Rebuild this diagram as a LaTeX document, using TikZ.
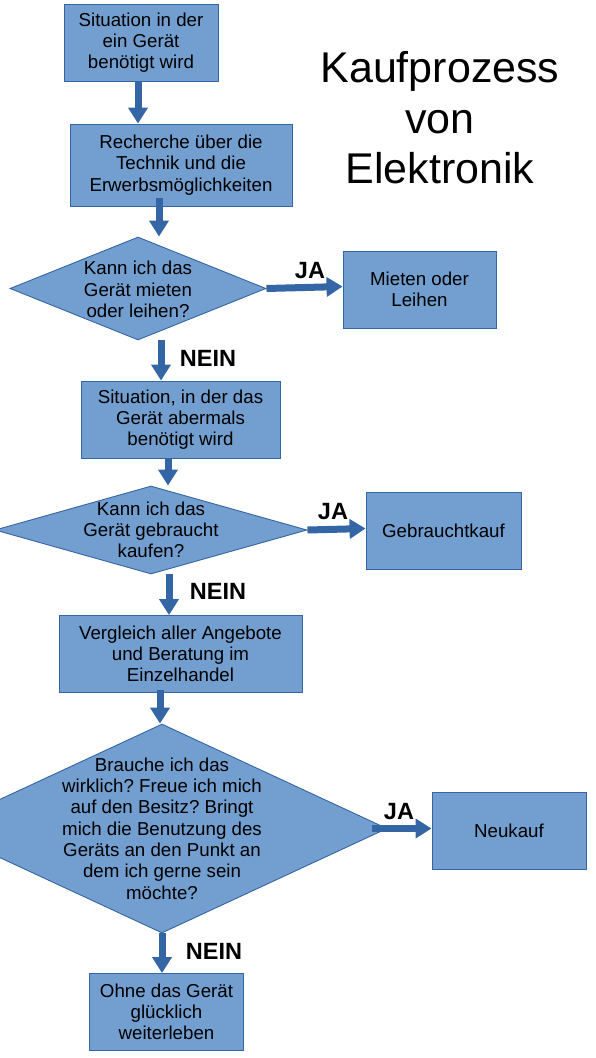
\documentclass[tikz,border=0pt]{standalone}
\usepackage{fontspec}
\setmainfont{Liberation Sans}
\usetikzlibrary{shapes.geometric,arrows.meta,calc}
\definecolor{boxfill}{HTML}{729FCF}
\definecolor{boxline}{HTML}{3465A4}
\frenchspacing
\tikzset{
  boxnode/.style={draw=boxline, fill=boxfill, line width=0.9pt, rectangle, inner sep=0pt, align=center,
    font=\fontsize{18.7}{21.3}\selectfont},
  dianode/.style={draw=boxline, fill=boxfill, line width=0.9pt, diamond, inner sep=0pt},
  diatext/.style={align=center, inner sep=0pt, font=\fontsize{18.7}{21.3}\selectfont},
  flowarrow/.style={draw=boxline, line width=7pt, -{Triangle[width=19pt,length=16pt]}},
  answer/.style={font=\fontsize{23.5}{28}\selectfont\bfseries, inner sep=0pt},
  titletext/.style={align=center, inner sep=0pt, font=\fontsize{43}{50.5}\selectfont}
}
\begin{document}
\begin{tikzpicture}[x=1pt,y=-1pt]
\useasboundingbox (0,0) rectangle (595,1058);

% title
\node[titletext] (title) at (440,118) {Kaufprozess\\von\\Elektronik};

% boxes
\node[boxnode, minimum width=154pt, minimum height=77pt] (b1) at (141,42.5) {Situation in der\\ein Gerät\\benötigt wird};
\node[boxnode, minimum width=222pt, minimum height=82pt] (b2) at (181,165) {Recherche über die\\Technik und die\\Erwerbsmöglichkeiten};
\node[dianode, minimum width=256pt, minimum height=103pt] (d1) at (138,288.5) {};
\node[diatext] (d1t) at ([yshift=-1pt]d1) {Kann ich das\\Gerät mieten\\oder leihen?};
\node[boxnode, minimum width=153pt, minimum height=77pt] (mieten) at (419.5,289.5) {Mieten oder\\Leihen};
\node[boxnode, minimum width=199pt, minimum height=77pt] (b3) at (180.5,419.5) {Situation, in der das\\Gerät abermals\\benötigt wird};
\node[dianode, minimum width=312pt, minimum height=88pt] (d2) at (151,530) {};
\node[diatext] (d2t) at (d2) {Kann ich das\\Gerät gebraucht\\kaufen?};
\node[boxnode, minimum width=155pt, minimum height=77pt] (gk) at (443.5,530.5) {Gebrauchtkauf};
\node[boxnode, minimum width=243pt, minimum height=77pt] (b4) at (180.5,654) {Vergleich aller Angebote\\und Beratung im\\Einzelhandel};
\node[dianode, minimum width=450pt, minimum height=209pt] (d3) at (162,828.5) {};
\node[diatext] (d3t) at (d3) {Brauche ich das\\wirklich? Freue ich mich\\auf den Besitz? Bringt\\mich die Benutzung des\\Geräts an den Punkt an\\dem ich gerne sein\\möchte?};
\node[boxnode, minimum width=154pt, minimum height=77pt] (nk) at (509,830.5) {Neukauf};
\node[boxnode, minimum width=154pt, minimum height=77pt] (b5) at (166.5,1012) {Ohne das Gerät\\glücklich\\weiterleben};

% arrows down
\draw[flowarrow] ([xshift=-3pt]b1.south) -- ([xshift=-43pt]b2.north);
\draw[flowarrow] ([xshift=-22pt,yshift=8pt]b2.south) -- ([xshift=21pt]d1.north);
\draw[flowarrow] ([xshift=23pt]d1.south) -- ([xshift=-19.5pt]b3.north);
\draw[flowarrow] ([xshift=-12.5pt]b3.south) -- ([xshift=17pt]d2.north);
\draw[flowarrow] ([xshift=18pt]d2.south) -- ([xshift=-11.5pt]b4.north);
\draw[flowarrow] ([xshift=-20.5pt,yshift=3pt]b4.south) -- ([xshift=-2pt]d3.north);
\draw[flowarrow] (d3.south) -- ([xshift=-4.5pt]b5.north);

% arrows right
\draw[flowarrow] (d1.east) -- ([yshift=3pt]mieten.west);
\draw[flowarrow] (d2.east) -- ([yshift=2pt]gk.west);
\draw[flowarrow] ([xshift=-15pt]d3.east) -- ([yshift=2pt]nk.west);

% labels
\node[answer] (ja1) at (310,271) {JA};
\node[answer] (nein1) at (208,358) {NEIN};
\node[answer] (ja2) at (333,512) {JA};
\node[answer] (nein2) at (218,591) {NEIN};
\node[answer] (ja3) at (399,812) {JA};
\node[answer] (nein3) at (214,951) {NEIN};
\end{tikzpicture}
\end{document}
